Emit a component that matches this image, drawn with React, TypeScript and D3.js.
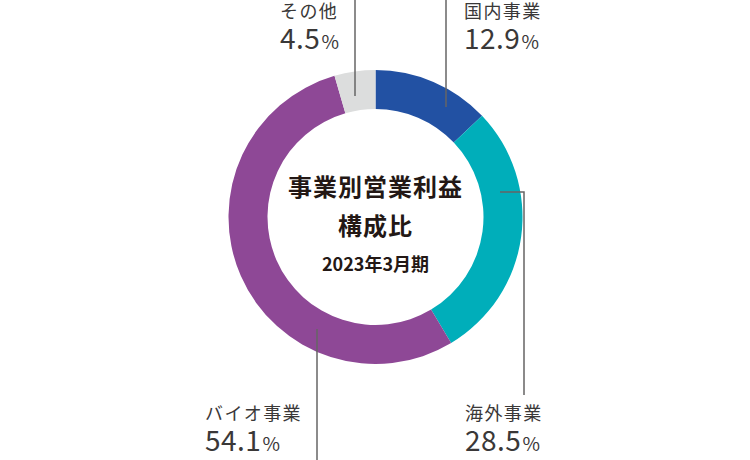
import { useEffect, useRef } from 'react';
import * as d3 from 'd3';

const categories = ['国内事業', '海外事業', 'バイオ事業', 'その他'];
const shares = [12.9, 28.5, 54.1, 4.5];
const colors = ['#2251a3', '#00aeba', '#8e4896', '#dcdddd'];

const titleLines = ['事業別営業利益', '構成比'];
const periodLabel = '2023年3月期';

// leader lines and label anchors, in px relative to page
const annotations = [
  { line: [[446, 0], [446, 107]], label: [464, 18] },
  { line: [[500, 192], [524, 192], [524, 395]], label: [465, 420] },
  { line: [[317, 329], [317, 460]], label: [205, 420] },
  { line: [[355, 0], [355, 96]], label: [280, 18] },
];

const width = 750;
const height = 460;
const cx = 375.5;
const cy = 217;

export default function App() {
  const svgRef = useRef<SVGSVGElement>(null);

  useEffect(() => {
    if (!svgRef.current) return;
    const svg = d3.select(svgRef.current);
    svg.selectAll('*').remove();

    const rows = categories.map((c, i) => ({ name: c, value: shares[i], color: colors[i] }));

    const pie = d3
      .pie<(typeof rows)[number]>()
      .sort(null)
      .value((d) => d.value);

    const arc = d3
      .arc<d3.PieArcDatum<(typeof rows)[number]>>()
      .innerRadius(108)
      .outerRadius(147);

    const g = svg.append('g').attr('transform', `translate(${cx},${cy})`);
    g.selectAll('path')
      .data(pie(rows))
      .join('path')
      .attr('d', arc)
      .attr('fill', (d) => d.data.color);

    const lineGen = d3.line();
    svg
      .append('g')
      .selectAll('path')
      .data(annotations)
      .join('path')
      .attr('d', (d) => lineGen(d.line as [number, number][]))
      .attr('fill', 'none')
      .attr('stroke', '#666464')
      .attr('stroke-width', 1.5);

    const labels = svg
      .append('g')
      .attr('font-family', '"Noto Sans CJK JP", "Noto Sans", sans-serif')
      .attr('fill', '#3a3838')
      .selectAll('g')
      .data(rows)
      .join('g')
      .attr('transform', (_, i) => `translate(${annotations[i].label[0]},${annotations[i].label[1]})`);

    labels
      .append('text')
      .attr('font-size', 18)
      .attr('letter-spacing', 1.4)
      .text((d) => d.name);

    const pct = labels.append('text').attr('y', 31).attr('font-size', 28).attr('letter-spacing', 0.5);
    pct.append('tspan').text((d) => d.value.toFixed(1));
    pct.append('tspan').attr('font-size', 19).attr('dx', 1).text('%');

    const center = svg
      .append('g')
      .attr('font-family', '"Noto Sans CJK JP", sans-serif')
      .attr('fill', '#231815')
      .attr('text-anchor', 'middle')
      .attr('font-weight', 700);

    center
      .selectAll('text.title')
      .data(titleLines)
      .join('text')
      .attr('class', 'title')
      .attr('x', cx)
      .attr('y', (_, i) => 196 + i * 39)
      .attr('font-size', 24)
      .attr('letter-spacing', 1)
      .text((d) => d);

    center
      .append('text')
      .attr('x', cx)
      .attr('y', 271)
      .attr('font-size', 18)
      .text(periodLabel);
  }, []);

  return (
    <div style={{ position: 'absolute', left: 0, top: 0, width, height, background: '#fff' }}>
      <svg ref={svgRef} width={width} height={height} />
    </div>
  );
}
